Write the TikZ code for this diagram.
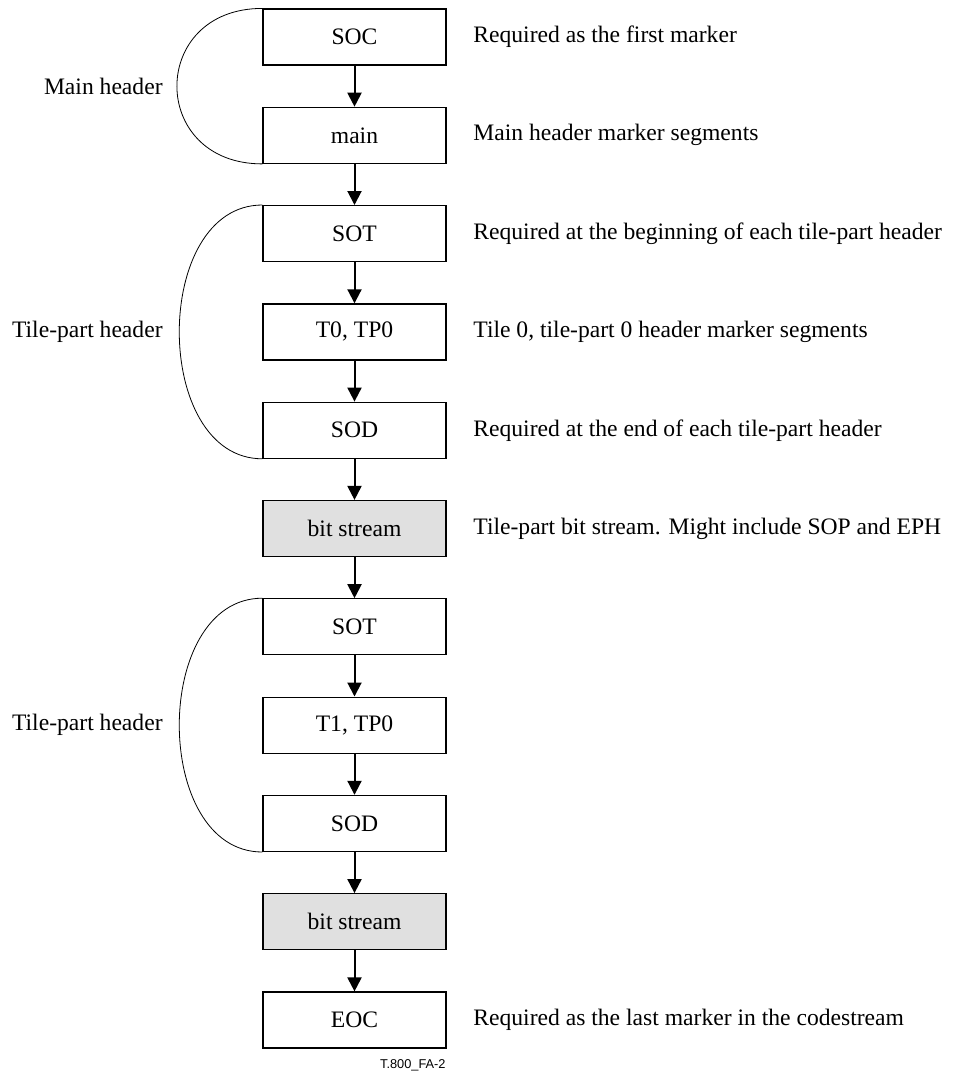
\documentclass[tikz,border=0pt]{standalone}
\usepackage{fontspec}
\setmainfont{Liberation Serif}
\newfontfamily\tagfont{Liberation Sans}
\usetikzlibrary{arrows.meta}

\begin{document}
\begin{tikzpicture}[x=0.5pt, y=-0.5pt,
    every node/.style={font=\fontsize{11.8}{14}\selectfont},
    mark box/.style={draw, line width=0.6pt, minimum width=91.5pt, minimum height=28pt, inner sep=0pt},
    bits box/.style={mark box, fill=black!12},
    flow/.style={-{Triangle[length=7pt, width=7pt]}, line width=1pt},
    brace/.style={line width=0.4pt},
    note/.style={anchor=west, inner sep=0pt},
    part/.style={anchor=east, inner sep=0pt}]
    \useasboundingbox (0,0) rectangle (956,1076);

    \node (SOC)  at (354.5,37)     [mark box] {SOC};
    \node (main) at (354.5,135.3)  [mark box] {main};
    \node (SOTa) at (354.5,233.6)  [mark box] {SOT};
    \node (Ta)   at (354.5,331.9)  [mark box] {T0, TP0};
    \node (SODa) at (354.5,430.2)  [mark box] {SOD};
    \node (BSa)  at (354.5,528.5)  [bits box] {bit stream};
    \node (SOTb) at (354.5,626.8)  [mark box] {SOT};
    \node (Tb)   at (354.5,725.1)  [mark box] {T1, TP0};
    \node (SODb) at (354.5,823.4)  [mark box] {SOD};
    \node (BSb)  at (354.5,921.7)  [bits box] {bit stream};
    \node (EOC)  at (354.5,1020)   [mark box] {EOC};

    % flow down the codestream
    \draw [flow] (SOC)--(main);
    \draw [flow] (main)--(SOTa);
    \draw [flow] (SOTa)--(Ta);
    \draw [flow] (Ta)--(SODa);
    \draw [flow] (SODa)--(BSa);
    \draw [flow] (BSa)--(SOTb);
    \draw [flow] (SOTb)--(Tb);
    \draw [flow] (Tb)--(SODb);
    \draw [flow] (SODb)--(BSb);
    \draw [flow] (BSb)--(EOC);

    % header groups
    \draw [brace] (SOC.north west) to[out=180, in=180, looseness=1.88] (main.south west);
    \draw [brace] (SOTa.north west) to[out=180, in=180, looseness=1.12] (SODa.south west);
    \draw [brace] (SOTb.north west) to[out=180, in=180, looseness=1.12] (SODb.south west);
    \node (MH)  at (163,86)    [part] {Main header};
    \node (TPa) at (163,331.9) [part] {Tile-part header};
    \node (TPb) at (163,725.1) [part] {Tile-part header};

    % notes
    \node (nSOC)  at (473,37)    [note] {Required as the first marker};
    \node (nmain) at (473,135.3) [note] {Main header marker segments};
    \node (nSOT)  at (473,233.6) [note] {Required at the beginning of each tile-part header};
    \node (nT)    at (473,331.9) [note] {Tile 0, tile-part 0 header marker segments};
    \node (nSOD)  at (473,430.2) [note] {Required at the end of each tile-part header};
    \node (nBS)   at (473,528.5) [note] {Tile-part bit stream. Might include SOP and EPH};
    \node (nEOC)  at (473,1020)  [note] {Required as the last marker in the codestream};

    \node (tag) at (446,1065) [anchor=east, inner sep=0pt, font=\tagfont\fontsize{6.4}{7}\selectfont] {T.800\_FA-2};
\end{tikzpicture}
\end{document}
